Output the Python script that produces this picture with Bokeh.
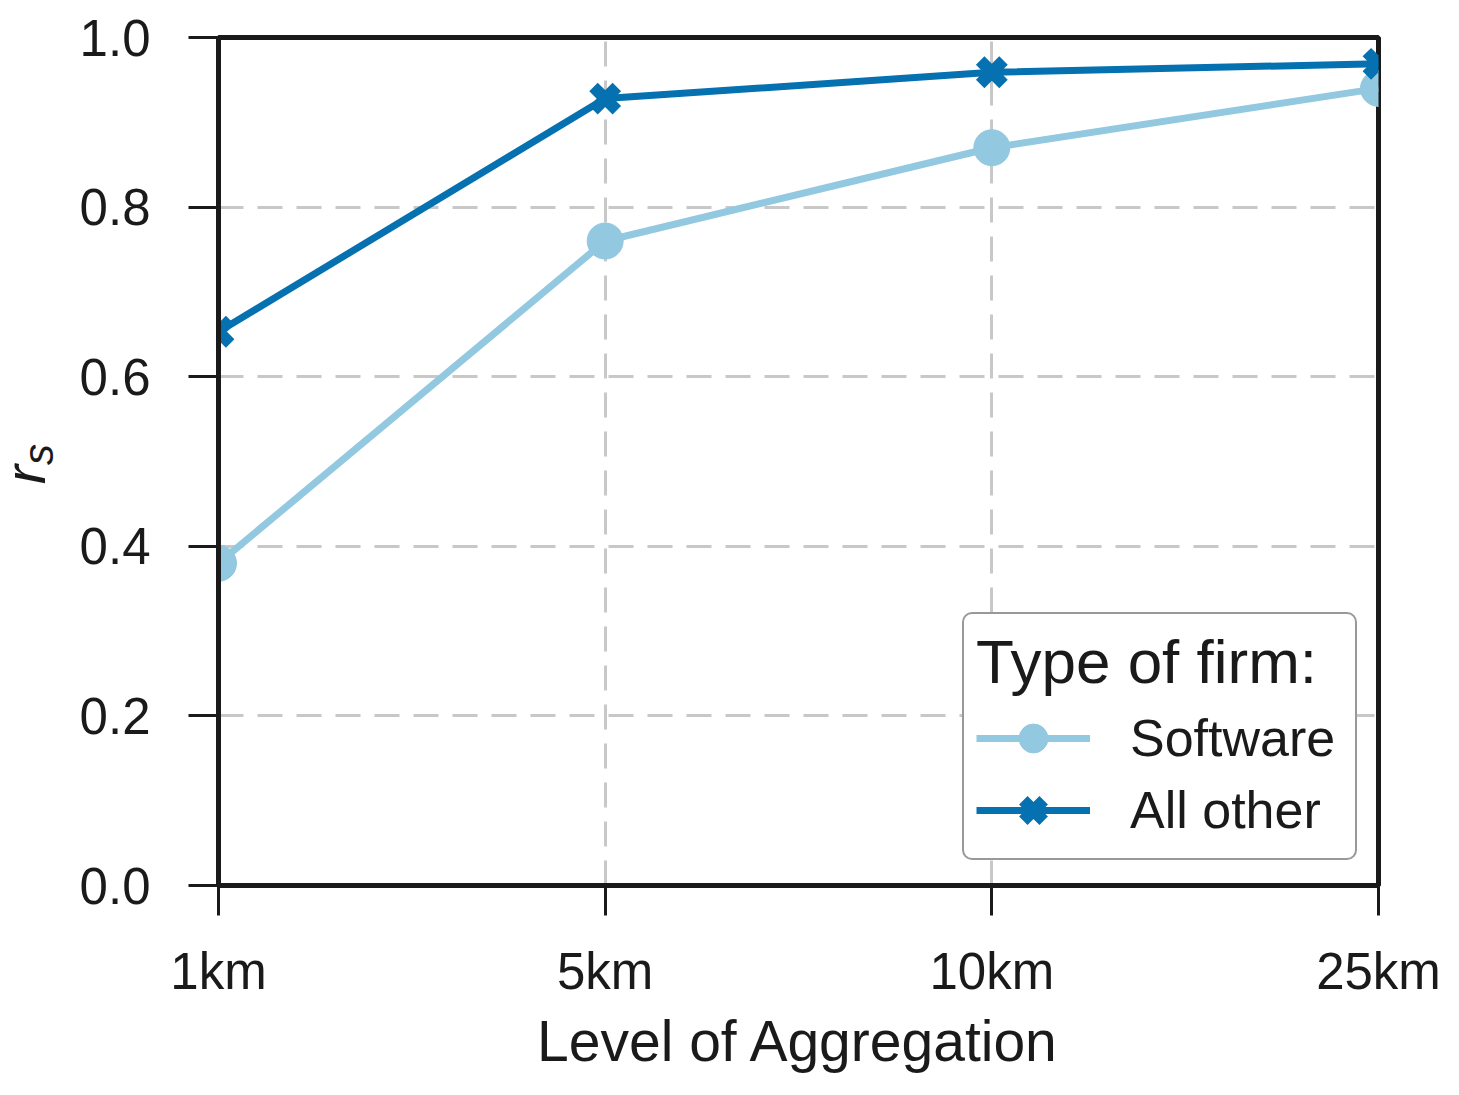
import math
from bokeh.plotting import figure
from bokeh.layouts import row
from bokeh.models import Range1d, FixedTicker, PrintfTickFormatter, Legend, LegendItem
from bokeh.core.properties import value
from bokeh.embed import file_html
from bokeh.resources import INLINE

categories = ["1km", "5km", "10km", "25km"]
software = [0.38, 0.76, 0.87, 0.94]
all_other = [0.653, 0.928, 0.959, 0.969]
y_ticks = [0.0, 0.2, 0.4, 0.6, 0.8, 1.0]

xs = list(range(len(categories)))

FONT = "Liberation Sans"
LIGHT = "#92c8e0"
DARK = "#0571b0"
INK = "#1a1a1a"

FW, FH = 1160, 848
TOP, BOTTOM, RIGHT = 37, 195, 70
LBL_W = 70
TOTAL_H = TOP + FH + BOTTOM

p = figure(frame_width=FW, frame_height=FH, output_backend="svg", toolbar_location=None,
           x_range=Range1d(0, len(categories) - 1), y_range=Range1d(0, 1))
p.min_border_left = 218 - LBL_W
p.min_border_top = TOP
p.min_border_right = RIGHT
p.min_border_bottom = BOTTOM
p.background_fill_color = "white"
p.border_fill_color = "white"
p.outline_line_color = INK
p.outline_line_width = 5

# axes
p.xaxis.ticker = FixedTicker(ticks=xs)
p.xaxis.major_label_overrides = {i: c for i, c in enumerate(categories)}
p.yaxis.ticker = FixedTicker(ticks=y_ticks)
p.yaxis.formatter = PrintfTickFormatter(format="%.1f")
for ax in (p.xaxis, p.yaxis):
    ax.axis_line_color = INK
    ax.axis_line_width = 5
    ax.major_tick_line_color = INK
    ax.major_tick_line_width = 3
    ax.major_tick_out = 30
    ax.major_tick_in = 0
    ax.minor_tick_line_color = None
    ax.major_label_text_font = FONT
    ax.major_label_text_font_size = "51px"
    ax.major_label_text_color = INK
    ax.axis_label_text_font = FONT
    ax.axis_label_text_font_size = "57px"
    ax.axis_label_text_font_style = "normal"
    ax.axis_label_text_color = INK
p.xaxis.major_label_standoff = 27
p.yaxis.major_label_standoff = 38
p.xaxis.axis_label = "Level of Aggregation"
p.xaxis.axis_label_standoff = 6

# grid
p.grid.grid_line_color = "#c8c8c8"
p.grid.grid_line_width = 3
p.grid.grid_line_dash = "25 14"
p.xgrid.ticker = FixedTicker(ticks=xs)
p.ygrid.ticker = FixedTicker(ticks=y_ticks)

# series
l1 = p.line(xs, software, line_color=LIGHT, line_width=7)
m1 = p.scatter(xs, software, marker="circle", size=36, fill_color=LIGHT, line_color=LIGHT)
l2 = p.line(xs, all_other, line_color=DARK, line_width=7)
m2 = p.scatter(xs, all_other, marker="x", size=33, line_color=DARK, line_width=12)

legend = Legend(items=[LegendItem(label="Software", renderers=[l1, m1]),
                       LegendItem(label="All other", renderers=[l2, m2])],
                location=(744, 25))
legend.title = "Type of firm:"
legend.title_text_font = FONT
legend.title_text_font_size = "62px"
legend.title_text_font_style = "normal"
legend.title_text_color = INK
legend.title_standoff = 5
legend.label_text_font = FONT
legend.label_text_font_size = "52px"
legend.label_text_color = INK
legend.label_standoff = 40
legend.label_width = 213
legend.glyph_width = 114
legend.glyph_height = 72
legend.label_height = 50
legend.spacing = 0
legend.padding = 12
legend.margin = 0
legend.border_line_color = "#333333"
legend.border_line_width = 2
legend.background_fill_color = "white"
legend.background_fill_alpha = 1.0
if "border_radius" in Legend.properties():
    legend.border_radius = 10
p.add_layout(legend)

# narrow strip on the left carrying the y-axis label r_s (italic r, subscript s)
lab = figure(frame_width=LBL_W, frame_height=TOTAL_H, output_backend="svg", toolbar_location=None,
             x_range=Range1d(0, LBL_W), y_range=Range1d(0, TOTAL_H),
             min_border=0, x_axis_location=None, y_axis_location=None)
lab.grid.visible = False
lab.outline_line_color = None
lab.background_fill_color = "white"
lab.border_fill_color = "white"
lab.text(x=[24], y=[TOTAL_H - 437], text=["r"], angle=math.pi / 2,
         text_font=value(FONT), text_font_style="italic", text_font_size="58px",
         text_color=INK, text_align="center", text_baseline="middle")
lab.text(x=[38], y=[TOTAL_H - 417], text=["s"], angle=math.pi / 2,
         text_font=value(FONT), text_font_style="italic", text_font_size="42px",
         text_color=INK, text_align="center", text_baseline="middle")

layout = row(lab, p, spacing=0)
open("out.html", "w").write(file_html(layout, INLINE))
